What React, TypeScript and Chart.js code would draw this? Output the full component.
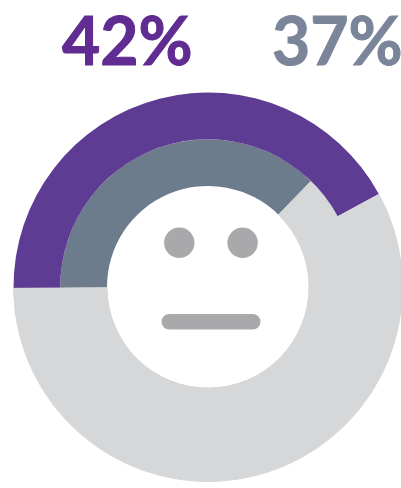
import React, { useEffect, useRef } from "react";
import { Chart, registerables } from "chart.js";

Chart.register(...registerables);

const categories = ["Share", "Remainder"];
const purpleValues = [42.2, 57.8];
const slateValues = [37.4, 62.6];
const purpleLabel = "42%";
const slateLabel = "37%";

const facePlugin = {
  id: "neutralFace",
  afterDraw(chart: any) {
    const ctx = chart.ctx;
    ctx.save();
    ctx.fillStyle = "#A9A9AB";
    ctx.beginPath();
    ctx.arc(179.3, 242.8, 15.2, 0, Math.PI * 2);
    ctx.fill();
    ctx.beginPath();
    ctx.arc(242.6, 242.8, 15.2, 0, Math.PI * 2);
    ctx.fill();
    ctx.beginPath();
    ctx.roundRect(161.5, 314, 99, 15.5, 7.75);
    ctx.fill();
    ctx.restore();
  },
};

const labelStyle: React.CSSProperties = {
  position: "absolute",
  top: 0,
  fontFamily: "Lato, sans-serif",
  fontWeight: 700,
  fontSize: 66,
  lineHeight: "80px",
  whiteSpace: "nowrap",
  WebkitTextStrokeWidth: 1,
};

export default function App() {
  const ref = useRef<HTMLCanvasElement>(null);
  useEffect(() => {
    if (!ref.current) return;
    const chart = new Chart(ref.current, {
      type: "doughnut",
      data: {
        labels: categories,
        datasets: [
          {
            data: purpleValues,
            backgroundColor: ["#5F3C94", "#D6D7D9"],
            borderColor: ["#5F3C94", "#D6D7D9"],
            borderWidth: [0, 1],
          },
          {
            data: slateValues,
            backgroundColor: ["#6D7C8D", "#D6D7D9"],
            borderColor: ["#6D7C8D", "#D6D7D9"],
            borderWidth: [0, 1],
          },
        ],
      },
      options: {
        responsive: false,
        animation: false,
        rotation: -90.4,
        cutout: 101,
        layout: { padding: { top: 92, bottom: 6, left: 0, right: 0 } },
        plugins: { legend: { display: false }, tooltip: { enabled: false } },
      },
      plugins: [facePlugin],
    } as any);
    return () => chart.destroy();
  }, []);

  return (
    <div style={{ position: "fixed", left: 0, top: 0, width: 401, height: 488, overflow: "hidden", background: "#fff" }}>
      <canvas ref={ref} width={416} height={488} style={{ position: "absolute", left: 0, top: 0, width: 416, height: 488 }} />
      <span style={{ ...labelStyle, left: 62, color: "#612C91", WebkitTextStrokeColor: "#612C91" }}>{purpleLabel}</span>
      <span style={{ ...labelStyle, left: 272, color: "#7B8599", WebkitTextStrokeColor: "#7B8599" }}>{slateLabel}</span>
    </div>
  );
}
